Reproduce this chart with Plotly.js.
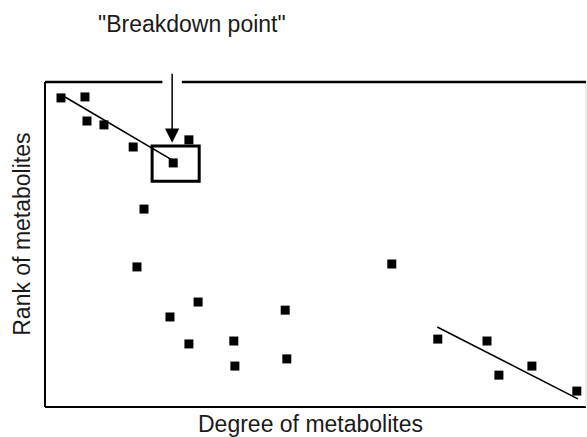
<!DOCTYPE html>
<html>
<head>
<meta charset="utf-8">
<script src="https://cdn.plot.ly/plotly-3.0.1.min.js"></script>
<style>html,body{margin:0;padding:0;background:#fff;}#chart{width:587px;height:437px;}</style>
</head>
<body>
<div id="chart"></div>
<script>
// Degree of metabolites (x) vs rank of metabolites (y), arbitrary units 0-100
const degree = [2.96, 7.39, 7.76, 10.9, 16.3, 26.6, 23.7, 18.3, 17.0, 28.3, 23.1, 26.6, 34.9, 35.1, 44.4, 44.7, 64.1, 72.6, 81.7, 83.9, 90.0, 98.3];
const rank   = [95.1, 95.4, 88.0, 86.8, 80.0, 82.2, 75.1, 60.9, 43.1, 32.3, 27.7, 19.4, 20.3, 12.6, 29.8, 14.8, 44.0, 20.9, 20.3, 9.8, 12.6, 4.9];
// fitted trend segments
const fit1X = [3.7, 24.4];
const fit1Y = [95.4, 75.1];
const fit2X = [72.5, 98.5];
const fit2Y = [24.6, 2.5];
// breakdown point box
const boxX = [19.8, 28.5];
const boxY = [69.5, 80.3];
const arrowX = 23.5;
const arrowTopY = 103.0;
const labelTitle = '"Breakdown point"';
const labelX = 'Degree of metabolites';
const labelY = 'Rank of metabolites';

const font = {family: '"Liberation Sans", Arial, sans-serif', size: 23, color: '#1a1a1a'};

const traces = [
  {x: fit1X, y: fit1Y, mode: 'lines', line: {color: '#000', width: 1.6}, hoverinfo: 'skip'},
  {x: fit2X, y: fit2Y, mode: 'lines', line: {color: '#000', width: 1.6}, hoverinfo: 'skip'},
  {x: degree, y: rank, mode: 'markers', marker: {symbol: 'square', size: 9, color: '#000'}, cliponaxis: false}
];

const gapL = arrowX - 1.8, gapR = arrowX + 1.8;
const layout = {
  width: 587, height: 437,
  margin: {l: 45, r: 1, t: 82, b: 30},
  paper_bgcolor: '#fff', plot_bgcolor: '#fff',
  showlegend: false,
  xaxis: {range: [0, 100], showgrid: false, zeroline: false, showticklabels: false, ticks: '', showline: false},
  yaxis: {range: [0, 100], showgrid: false, zeroline: false, showticklabels: false, ticks: '', showline: false},
  shapes: [
    {type: 'line', xref: 'paper', yref: 'paper', x0: 0, x1: 0, y0: 0, y1: 1, line: {color: '#000', width: 2}},
    {type: 'line', xref: 'paper', yref: 'paper', x0: 0, x1: 1, y0: 0, y1: 0, line: {color: '#000', width: 2}},
    {type: 'line', xref: 'paper', yref: 'paper', x0: 1, x1: 1, y0: 0, y1: 1, line: {color: '#d8d8d8', width: 1}},
    {type: 'line', xref: 'x', yref: 'paper', x0: 0, x1: gapL, y0: 1, y1: 1, line: {color: '#000', width: 2.5}},
    {type: 'line', xref: 'x', yref: 'paper', x0: gapR, x1: 100, y0: 1, y1: 1, line: {color: '#000', width: 2.5}},
    {type: 'rect', xref: 'x', yref: 'y', x0: boxX[0], x1: boxX[1], y0: boxY[0], y1: boxY[1], line: {color: '#000', width: 3}, fillcolor: 'rgba(0,0,0,0)'}
  ],
  annotations: [
    {x: arrowX, y: boxY[1] + 1.0, xref: 'x', yref: 'y', ax: arrowX, ay: arrowTopY, axref: 'x', ayref: 'y',
     showarrow: true, arrowhead: 2, arrowsize: 1.9, arrowwidth: 1.5, arrowcolor: '#000', text: ''},
    {text: labelTitle, xref: 'x', yref: 'paper', x: 27.2, y: 1.178, xanchor: 'center', yanchor: 'middle', showarrow: false, font: font},
    {text: labelX, xref: 'x', yref: 'paper', x: 49, y: -0.052, xanchor: 'center', yanchor: 'middle', showarrow: false, font: font},
    {text: labelY, xref: 'paper', yref: 'paper', x: -0.0425, y: 0.53, xanchor: 'center', yanchor: 'middle', textangle: -90, showarrow: false, font: font}
  ]
};

Plotly.newPlot('chart', traces, layout, {displayModeBar: false, staticPlot: true});
</script>
</body>
</html>
